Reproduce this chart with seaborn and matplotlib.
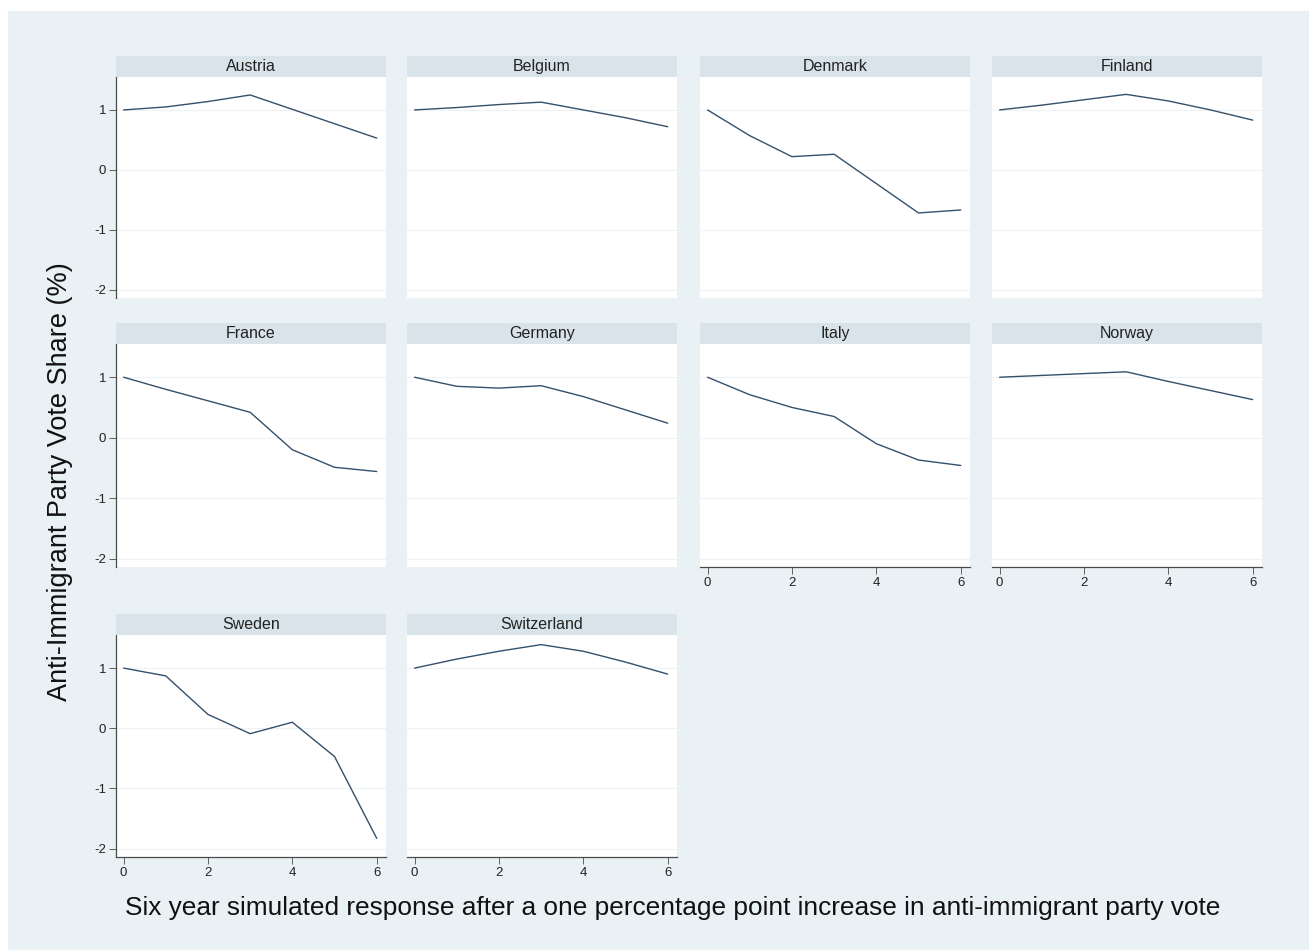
import pandas as pd
import matplotlib
matplotlib.use('Agg')
import matplotlib.pyplot as plt
from matplotlib.patches import Rectangle
import seaborn as sns

# data
years = [0, 1, 2, 3, 4, 5, 6]
countries = ['Austria', 'Belgium', 'Denmark', 'Finland', 'France',
             'Germany', 'Italy', 'Norway', 'Sweden', 'Switzerland']
austria = [1.0, 1.05, 1.14, 1.25, 1.01, 0.77, 0.53]
belgium = [1.0, 1.04, 1.09, 1.13, 1.0, 0.87, 0.72]
denmark = [1.0, 0.57, 0.22, 0.26, -0.23, -0.72, -0.67]
finland = [1.0, 1.08, 1.17, 1.26, 1.15, 1.0, 0.83]
france = [1.0, 0.8, 0.61, 0.42, -0.2, -0.49, -0.56]
germany = [1.0, 0.85, 0.82, 0.86, 0.68, 0.46, 0.24]
italy = [1.0, 0.71, 0.5, 0.35, -0.1, -0.37, -0.46]
norway = [1.0, 1.03, 1.06, 1.09, 0.93, 0.78, 0.63]
sweden = [1.0, 0.87, 0.23, -0.09, 0.1, -0.47, -1.83]
switzerland = [1.0, 1.15, 1.28, 1.39, 1.28, 1.1, 0.9]
series = [austria, belgium, denmark, finland, france,
          germany, italy, norway, sweden, switzerland]
yticks = [-2, -1, 0, 1]
xticks = [0, 2, 4, 6]

rows = []
for c, vals in zip(countries, series):
    for yr, v in zip(years, vals):
        rows.append({'country': c, 'year': yr, 'response': v})
df = pd.DataFrame(rows)

# colours
bg = '#eaf1f4'
strip = '#d8e4ea'
grid = '#edf2f5'
line = '#34506b'
axcol = '#4a4a4a'

sns.set_theme(style='white')
plt.rcParams['font.family'] = ['Liberation Sans', 'DejaVu Sans']
plt.rcParams['axes.unicode_minus'] = False

W, H = 1309, 950
fig = plt.figure(figsize=(W / 100, H / 100), dpi=100, facecolor=bg)
# thin white margins at top and left, as in the source image
fig.add_artist(Rectangle((0, 1 - 11 / H), 1, 11 / H, transform=fig.transFigure,
                         facecolor='white', edgecolor='none', zorder=0))
fig.add_artist(Rectangle((0, 0), 8 / W, 1, transform=fig.transFigure,
                         facecolor='white', edgecolor='none', zorder=0))

col_left = [116, 407, 700, 992]
col_w = 270
row_head = [56, 323, 614]
row_top = [77, 344, 635]
row_bot = [298, 567, 857]

for i, c in enumerate(countries):
    r, k = divmod(i, 4)
    x0 = col_left[k]
    # header strip
    fig.add_artist(Rectangle((x0 / W, 1 - row_top[r] / H), col_w / W,
                             (row_top[r] - row_head[r]) / H, transform=fig.transFigure,
                             facecolor=strip, edgecolor='none', zorder=1))
    fig.text((x0 + col_w / 2) / W, 1 - (row_head[r] + row_top[r]) / 2 / H, c,
             ha='center', va='center', fontsize=11.5, color='#222222')
    ax = fig.add_axes([x0 / W, 1 - row_bot[r] / H, col_w / W, (row_bot[r] - row_top[r]) / H])
    ax.set_facecolor('white')
    sns.lineplot(data=df[df['country'] == c], x='year', y='response', ax=ax,
                 color=line, linewidth=1.0)
    ax.set_xlim(-0.18, 6.22)
    ax.set_ylim(-2.14, 1.55)
    for yv in yticks:
        ax.axhline(yv, color=grid, linewidth=0.8, zorder=0)
    ax.set_xlabel('')
    ax.set_ylabel('')
    for s in ax.spines.values():
        s.set_visible(False)
    ax.set_yticks(yticks)
    ax.set_xticks(xticks)
    if k == 0:
        ax.spines['left'].set_visible(True)
        ax.spines['left'].set_color(axcol)
        ax.spines['left'].set_linewidth(0.9)
        ax.tick_params(axis='y', left=True, length=5, width=0.6, color=axcol,
                       labelsize=9.5, labelcolor='#222222', pad=2)
    else:
        ax.tick_params(axis='y', left=False, labelleft=False)
    if i >= 6:
        ax.spines['bottom'].set_visible(True)
        ax.spines['bottom'].set_color(axcol)
        ax.spines['bottom'].set_linewidth(0.9)
        ax.tick_params(axis='x', bottom=True, length=5, width=0.6, color=axcol,
                       labelsize=9.5, labelcolor='#222222', pad=2)
    else:
        ax.tick_params(axis='x', bottom=False, labelbottom=False)

fig.text(60 / W, 1 - 482 / H, 'Anti-Immigrant Party Vote Share (%)', rotation=90,
         ha='center', va='center', fontsize=19.5, color='#111111')
fig.text(673 / W, 1 - 908 / H,
         'Six year simulated response after a one percentage point increase in anti-immigrant party vote',
         ha='center', va='center', fontsize=18.9, color='#111111')

fig.savefig('out.png', dpi=100, facecolor=fig.get_facecolor())
